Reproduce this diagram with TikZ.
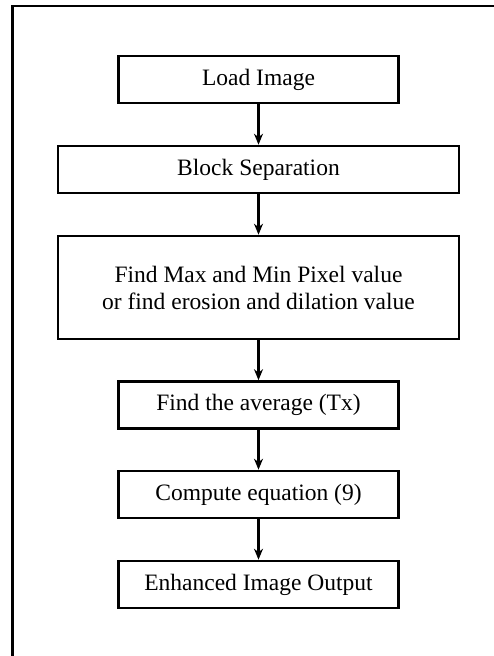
\documentclass[tikz,border=0pt]{standalone}
\usepackage{fontspec}
\setmainfont{Liberation Serif}
\usetikzlibrary{arrows.meta}

\tikzset{step box/.style={draw,line width=2.6pt,minimum height=47pt,inner sep=0pt,align=center,
  font=\fontsize{23.5}{27}\selectfont},
narrow box/.style={step box,minimum width=280pt},
wide box/.style={step box,minimum width=401pt},
flow arrow/.style={line width=2.2pt,-{Stealth[length=11pt,width=9pt]}},
frame line/.style={line width=2.6pt}}

\begin{document}
\begin{tikzpicture}[x=1pt,y=-1pt]
\useasboundingbox (0,0) rectangle (494,656);

%% Coordinates of box centres.
\coordinate (c1) at (258.5,79.5);
\coordinate (c2) at (258.5,169.5);
\coordinate (c3) at (258.5,287.5);
\coordinate (c4) at (258.5,405);
\coordinate (c5) at (258.5,494.5);
\coordinate (c6) at (258.5,584.5);

%% frame (cut off at the right and the bottom)
\coordinate (f0) at (12.5,656);
\coordinate (f1) at (12.5,6);
\coordinate (f2) at (494,6);
\draw [frame line,line cap=rect] (f0) -- (f1) -- (f2);

%% boxes
\node [narrow box] (load) at (c1) {Load Image};
\node [wide box] (block) at (c2) {Block Separation};
\node [wide box,minimum height=103pt] (minmax) at (c3) {Find Max and Min Pixel value\\or find erosion and dilation value};
\node [narrow box] (avg) at (c4) {Find the average (Tx)};
\node [narrow box] (eqn) at (c5) {Compute equation (9)};
\node [narrow box] (out) at (c6) {Enhanced Image Output};

%% arrows
\draw [flow arrow] (load) -- (block);
\draw [flow arrow] (block) -- (minmax);
\draw [flow arrow] (minmax) -- (avg);
\draw [flow arrow] (avg) -- (eqn);
\draw [flow arrow] (eqn) -- (out);

\end{tikzpicture}
\end{document}
